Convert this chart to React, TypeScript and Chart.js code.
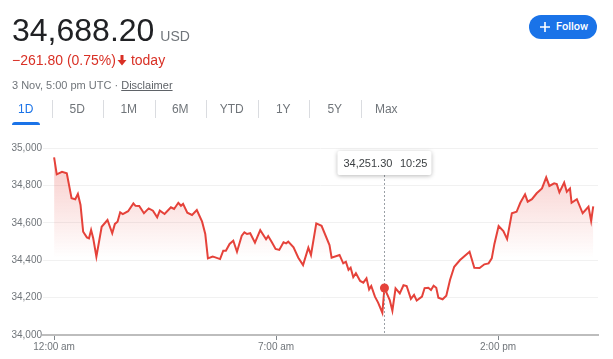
import React, { useEffect, useRef } from "react";
import { Chart, registerables } from "chart.js";

Chart.register(...registerables);

// ---- data ----
const minutes = [
  0, 5, 15, 24, 33, 40, 45, 50, 55, 62,
  66, 70, 74, 80, 90, 101, 110, 115, 120, 125,
  130, 140, 150, 154, 161, 170, 179, 187, 195, 200,
  209, 221, 227, 235, 240, 244, 252, 261, 270, 280,
  286, 291, 300, 305, 314, 320, 325, 332, 339, 346,
  355, 360, 365, 371, 380, 390, 401, 405, 412, 419,
  426, 434, 439, 443, 453, 462, 471, 481, 486, 496,
  506, 521, 525, 540, 547, 552, 557, 561, 566, 571,
  579, 585, 591, 596, 600, 607, 613, 621, 625, 635,
  640, 646, 654, 661, 667, 675, 681, 686, 696, 701,
  708, 713, 718, 723, 727, 735, 742, 749, 757, 768,
  786, 795, 805, 814, 822, 828, 833, 841, 850, 857,
  866, 875, 882, 891, 896, 904, 913, 923, 931, 937,
  946, 951, 956, 965, 970, 976, 979, 989, 1000, 1011,
  1016, 1020,
];

const prices = [
  34950, 34859, 34873, 34865, 34731, 34726, 34754, 34695, 34552, 34522,
  34517, 34561, 34517, 34419, 34579, 34615, 34544, 34594, 34606, 34656,
  34647, 34662, 34704, 34691, 34690, 34651, 34677, 34665, 34629, 34665,
  34647, 34683, 34674, 34707, 34691, 34701, 34654, 34642, 34668, 34606,
  34540, 34410, 34419, 34415, 34406, 34451, 34451, 34487, 34504, 34445,
  34531, 34549, 34540, 34544, 34494, 34561, 34512, 34529, 34496, 34460,
  34455, 34496, 34490, 34499, 34469, 34413, 34374, 34467, 34428, 34597,
  34584, 34481, 34413, 34428, 34383, 34392, 34348, 34360, 34309, 34330,
  34289, 34280, 34303, 34244, 34262, 34205, 34173, 34119, 34251.3, 34187,
  34130, 34250, 34223, 34266, 34262, 34193, 34214, 34184, 34205, 34251,
  34253, 34241, 34264, 34253, 34199, 34191, 34210, 34294, 34365, 34401,
  34445, 34360, 34358, 34378, 34383, 34410, 34487, 34583, 34556, 34513,
  34651, 34659, 34707, 34752, 34713, 34726, 34758, 34784, 34843, 34797,
  34811, 34807, 34763, 34815, 34766, 34784, 34707, 34726, 34651, 34686,
  34610, 34688.2,
];

const xTickMinutes = [0, 420, 840];
const xTickLabels = ["12:00 am", "7:00 am", "2:00 pm"];
const yTickValues = [34000, 34200, 34400, 34600, 34800, 35000];

const hoverMinute = 625;
const hoverPrice = 34251.3;
const hoverPriceLabel = "34,251.30";
const hoverTimeLabel = "10:25";

const currentPrice = "34,688.20";
const currency = "USD";
const changeText = "\u2212261.80 (0.75%)";
const todayText = "today";
const dateText = "3 Nov, 5:00 pm UTC \u00b7 ";
const disclaimerText = "Disclaimer";
const rangeTabs = ["1D", "5D", "1M", "6M", "YTD", "1Y", "5Y", "Max"];
const followText = "Follow";

const FONT = "'Liberation Sans', Arial, sans-serif";
const RED = "#e5423a";
const GRAY = "#70757a";
const BLUE = "#1a73e8";

const hoverPlugin = {
  id: "hoverMarker",
  afterDatasetsDraw(chart: any) {
    const { ctx, scales, chartArea } = chart;
    const px = scales.x.getPixelForValue(hoverMinute);
    const py = scales.y.getPixelForValue(hoverPrice);
    const boxW = 94;
    const boxH = 24;
    const bx = px - boxW / 2;
    const by = chartArea.top + 3;
    ctx.save();
    // dotted vertical
    ctx.strokeStyle = "#9aa0a6";
    ctx.lineWidth = 1;
    ctx.setLineDash([2, 2]);
    ctx.beginPath();
    const lx = Math.round(px) + 0.5;
    ctx.moveTo(lx, by + boxH);
    ctx.lineTo(lx, chartArea.bottom);
    ctx.stroke();
    ctx.setLineDash([]);
    // box
    ctx.shadowColor = "rgba(0,0,0,0.28)";
    ctx.shadowBlur = 4;
    ctx.shadowOffsetY = 1;
    ctx.fillStyle = "#ffffff";
    ctx.beginPath();
    ctx.roundRect(bx, by, boxW, boxH, 2);
    ctx.fill();
    ctx.shadowColor = "transparent";
    ctx.fillStyle = "#3c4043";
    ctx.font = `11px ${FONT}`;
    ctx.textBaseline = "middle";
    ctx.textAlign = "left";
    ctx.fillText(hoverPriceLabel, bx + 6, by + boxH / 2 + 0.5);
    ctx.fillText(hoverTimeLabel, bx + 62.5, by + boxH / 2 + 0.5);
    // point
    ctx.fillStyle = RED;
    ctx.beginPath();
    ctx.arc(px, py, 4.5, 0, Math.PI * 2);
    ctx.fill();
    ctx.restore();
  },
};

function PriceChart() {
  const ref = useRef<HTMLCanvasElement | null>(null);
  useEffect(() => {
    if (!ref.current) return;
    const points = minutes.map((m, i) => ({ x: m, y: prices[i] }));
    const chart = new Chart(ref.current, {
      type: "line",
      data: {
        datasets: [
          {
            data: points,
            borderColor: RED,
            borderWidth: 2,
            pointRadius: 0,
            tension: 0,
            fill: "start",
            backgroundColor: (c: any) => {
              const ch = c.chart;
              const a = ch.chartArea;
              if (!a) return "transparent";
              const g = ch.ctx.createLinearGradient(0, a.top, 0, a.top + 110);
              g.addColorStop(0, "rgba(229,66,58,0.30)");
              g.addColorStop(1, "rgba(229,66,58,0)");
              return g;
            },
          },
        ],
      },
      options: {
        animation: false,
        responsive: false,
        events: [],
        layout: { padding: { left: 0, right: 15, top: 148, bottom: 0 } },
        plugins: { legend: { display: false }, tooltip: { enabled: false } },
        scales: {
          x: {
            type: "linear",
            min: -21,
            max: 1029,
            afterBuildTicks: (s: any) => {
              s.ticks = xTickMinutes.map((v) => ({ value: v }));
            },
            afterFit: (s: any) => {
              s.height = 24;
            },
            ticks: {
              autoSkip: false,
              maxRotation: 0,
              padding: 1,
              color: GRAY,
              font: { family: FONT, size: 10 },
              callback: (v: any) => {
                const i = xTickMinutes.indexOf(Number(v));
                return i >= 0 ? xTickLabels[i] : "";
              },
            },
            grid: {
              drawOnChartArea: false,
              drawTicks: true,
              tickLength: 5,
              tickColor: "#80868b",
            },
            border: { display: true, color: "#bdbdbd", width: 2 },
          },
          y: {
            min: 34000,
            max: 35000,
            afterBuildTicks: (s: any) => {
              s.ticks = yTickValues.map((v) => ({ value: v }));
            },
            afterFit: (s: any) => {
              s.width = 43;
            },
            ticks: {
              padding: 1,
              color: GRAY,
              font: { family: FONT, size: 10 },
              callback: (v: any) => Number(v).toLocaleString("en-US"),
            },
            grid: { color: "#f1f1f1", drawTicks: false },
            border: { display: false },
          },
        },
      },
      plugins: [hoverPlugin],
    } as any);
    return () => chart.destroy();
  }, []);
  return (
    <canvas
      ref={ref}
      width={613}
      height={359}
      style={{ position: "absolute", left: 0, top: 0, width: 613, height: 359 }}
    />
  );
}

export default function App() {
  const tabW = 51.5;
  return (
    <div
      style={{
        position: "fixed",
        left: 0,
        top: 0,
        width: 613,
        height: 359,
        background: "#fff",
        fontFamily: FONT,
        overflow: "hidden",
      }}
    >
      <PriceChart />
      {/* price */}
      <div style={{ position: "absolute", left: 12, top: 14, whiteSpace: "nowrap", lineHeight: "32px" }}>
        <span style={{ fontSize: 32, color: "#202124" }}>{currentPrice}</span>
        <span style={{ fontSize: 14, color: GRAY, marginLeft: 6 }}>{currency}</span>
      </div>
      {/* change */}
      <div
        style={{
          position: "absolute",
          left: 12,
          top: 53,
          fontSize: 14,
          lineHeight: "14px",
          color: "#d93025",
          whiteSpace: "nowrap",
          display: "flex",
          alignItems: "flex-end",
        }}
      >
        <span>{changeText}</span>
        <svg width="10" height="11" viewBox="0 0 10 11" style={{ margin: "0 2px 1px 1px" }}>
          <path d="M3.5 0 H6.5 V5 H9.5 L5 10.5 L0.5 5 H3.5 Z" fill="#d93025" />
        </svg>
        <span style={{ marginLeft: 2 }}>{todayText}</span>
      </div>
      {/* date */}
      <div
        style={{
          position: "absolute",
          left: 12,
          top: 80,
          fontSize: 11,
          lineHeight: "11px",
          color: GRAY,
          whiteSpace: "nowrap",
        }}
      >
        {dateText}
        <span style={{ textDecoration: "underline", color: "#5f6368" }}>{disclaimerText}</span>
      </div>
      {/* tabs */}
      {rangeTabs.map((t, i) => (
        <React.Fragment key={t}>
          <div
            style={{
              position: "absolute",
              left: i * tabW,
              width: tabW,
              top: 103,
              textAlign: "center",
              fontSize: 12,
              lineHeight: "12px",
              color: i === 0 ? BLUE : GRAY,
            }}
          >
            {t}
          </div>
          {i < rangeTabs.length - 1 && (
            <div
              style={{
                position: "absolute",
                left: Math.round((i + 1) * tabW),
                top: 100,
                width: 1,
                height: 18,
                background: "#dadce0",
              }}
            />
          )}
        </React.Fragment>
      ))}
      <div
        style={{
          position: "absolute",
          left: 12,
          top: 122,
          width: 28,
          height: 3,
          background: BLUE,
          borderRadius: "3px 3px 0 0",
        }}
      />
      {/* follow button */}
      <div
        style={{
          position: "absolute",
          left: 529,
          top: 15,
          width: 68,
          height: 24,
          borderRadius: 12,
          background: BLUE,
        }}
      >
        <svg width="10" height="10" viewBox="0 0 10 10" style={{ position: "absolute", left: 11, top: 7 }}>
          <path d="M5 0 V10 M0 5 H10" stroke="#fff" strokeWidth="1.6" />
        </svg>
        <span
          style={{
            position: "absolute",
            left: 27,
            top: 6,
            fontSize: 11,
            lineHeight: "12px",
            color: "#fff",
            fontFamily: "Roboto, Arial, sans-serif",
            fontWeight: 500,
          }}
        >
          {followText}
        </span>
      </div>
    </div>
  );
}
